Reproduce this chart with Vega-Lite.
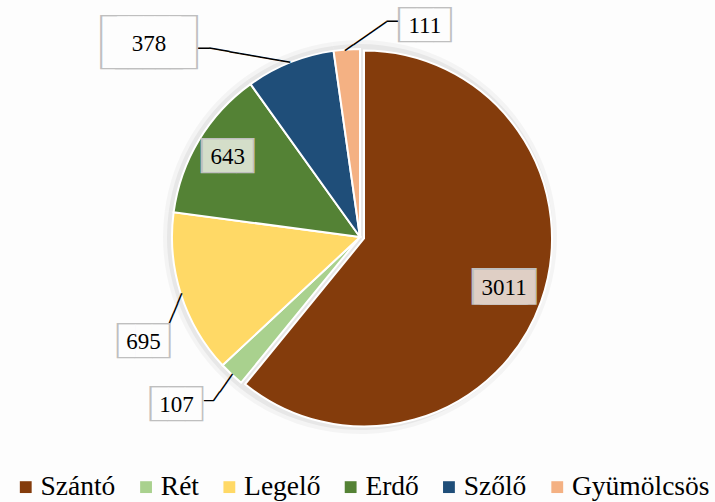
{
  "$schema": "https://vega.github.io/schema/vega-lite/v6.json",
  "width": 720,
  "height": 474,
  "autosize": {"type": "none"},
  "padding": {"left": 0, "top": 0, "right": 0, "bottom": 28},
  "background": "#fdfdfd",
  "config": {"view": {"stroke": null, "fill": "#f4f4f4"}},
  "data": {"values": [
    {"cat": "Szántó", "v": 3011},
    {"cat": "Rét", "v": 107},
    {"cat": "Legelő", "v": 695},
    {"cat": "Erdő", "v": 643},
    {"cat": "Szőlő", "v": 378},
    {"cat": "Gyümölcsös", "v": 111}
  ]},
  "transform": [{"window": [{"op": "row_number", "as": "i"}]}],
  "encoding": {
    "theta": {"field": "v", "type": "quantitative", "stack": true},
    "order": {"field": "i", "type": "quantitative"},
    "detail": {"field": "cat"}
  },
  "layer": [
    {"mark": {"type": "arc", "radius": 197, "fill": "#000", "fillOpacity": 0.035}},
    {"mark": {"type": "arc", "radius": 193, "fill": "#000", "fillOpacity": 0.05}},
    {"mark": {"type": "arc", "radius": 188, "stroke": "#ffffff", "strokeWidth": 2},
     "encoding": {
       "color": {"field": "cat", "type": "nominal",
         "scale": {"domain": ["Szántó", "Rét", "Legelő", "Erdő", "Szőlő", "Gyümölcsös"],
                   "range": ["#843c0c", "#a9d18e", "#ffd966", "#548235", "#1f4e79", "#f4b183"]},
         "legend": {"orient": "none", "legendX": 12, "legendY": 473, "direction": "horizontal", "title": null, "gridAlign": "each",
           "labelFont": "Liberation Serif", "labelFontSize": 27.5, "labelColor": "#000",
           "symbolType": "square", "symbolSize": 140, "symbolStrokeWidth": 0,
           "labelOffset": 1, "columnPadding": 16.3}},
       "opacity": {"condition": {"test": "datum.cat === 'Szántó'", "value": 0}, "value": 1}
     }},
    {"mark": {"type": "arc", "radius": 188, "stroke": "#ffffff", "strokeWidth": 2, "xOffset": 4, "yOffset": 1.5},
     "encoding": {
       "color": {"field": "cat", "type": "nominal"},
       "opacity": {"condition": {"test": "datum.cat === 'Szántó'", "value": 1}, "value": 0}
     }},

    {"mark": {"type": "text", "radius": 245.2, "dx": -65.05, "dy": 39.2, "angle": 0, "font": "DejaVu Sans Mono", "fontSize": 19.1, "fill": "#000", "align": "center", "baseline": "middle"},
     "encoding": {"text": {"condition": {"test": "datum.cat === 'Szőlő'", "value": "─"}, "value": ""}}},
    {"mark": {"type": "text", "radius": 212.65, "dx": -27.95, "dy": 21.64, "angle": 10.07, "font": "DejaVu Sans Mono", "fontSize": 16.98, "fill": "#000", "align": "center", "baseline": "middle"},
     "encoding": {"text": {"condition": {"test": "datum.cat === 'Szőlő'", "value": "────────"}, "value": ""}}},
    {"mark": {"type": "text", "radius": 217.7, "dx": 47.6, "dy": 2.47, "angle": 0, "font": "DejaVu Sans Mono", "fontSize": 19.1, "fill": "#000", "align": "center", "baseline": "middle"},
     "encoding": {"text": {"condition": {"test": "datum.cat === 'Gyümölcsös'", "value": "─"}, "value": ""}}},
    {"mark": {"type": "text", "radius": 201.0, "dx": 16.59, "dy": 11.85, "angle": -34.8, "font": "DejaVu Sans Mono", "fontSize": 16.78, "fill": "#000", "align": "center", "baseline": "middle"},
     "encoding": {"text": {"condition": {"test": "datum.cat === 'Gyümölcsös'", "value": "─────"}, "value": ""}}},
    {"mark": {"type": "text", "radius": 197.8, "dx": -8.79, "dy": 9.08, "angle": -67.5, "font": "DejaVu Sans Mono", "fontSize": 17.97, "fill": "#000", "align": "center", "baseline": "middle"},
     "encoding": {"text": {"condition": {"test": "datum.cat === 'Legelő'", "value": "───"}, "value": ""}}},
    {"mark": {"type": "text", "radius": 222.9, "dx": 1.05, "dy": 1.41, "angle": 0, "font": "DejaVu Sans Mono", "fontSize": 15.8, "fill": "#000", "align": "center", "baseline": "middle"},
     "encoding": {"text": {"condition": {"test": "datum.cat === 'Rét'", "value": "─"}, "value": ""}}},
    {"mark": {"type": "text", "radius": 203.5, "dx": -0.31, "dy": 3.86, "angle": -54.85, "font": "DejaVu Sans Mono", "fontSize": 18.08, "fill": "#000", "align": "center", "baseline": "middle"},
     "encoding": {"text": {"condition": {"test": "datum.cat === 'Rét'", "value": "───"}, "value": ""}}},

    {"mark": {"type": "text", "radius": 153, "dx": -4.2, "font": "DejaVu Sans Mono", "fontSize": 31, "fill": "#bfbfbf", "align": "center", "baseline": "middle"},
     "encoding": {"text": {"condition": {"test": "datum.cat === 'Szántó'", "value": "███"}, "value": ""}}},
    {"mark": {"type": "text", "radius": 153, "dx": 4.2, "font": "DejaVu Sans Mono", "fontSize": 31, "fill": "#bfbfbf", "align": "center", "baseline": "middle"},
     "encoding": {"text": {"condition": {"test": "datum.cat === 'Szántó'", "value": "███"}, "value": ""}}},
    {"mark": {"type": "text", "radius": 153, "dx": -4.2, "font": "DejaVu Sans Mono", "fontSize": 28.8, "fill": "#dfcfc5", "align": "center", "baseline": "middle"},
     "encoding": {"text": {"condition": {"test": "datum.cat === 'Szántó'", "value": "███"}, "value": ""}}},
    {"mark": {"type": "text", "radius": 153, "dx": 4.2, "font": "DejaVu Sans Mono", "fontSize": 28.8, "fill": "#dfcfc5", "align": "center", "baseline": "middle"},
     "encoding": {"text": {"condition": {"test": "datum.cat === 'Szántó'", "value": "███"}, "value": ""}}},
    {"mark": {"type": "text", "radius": 153, "font": "Liberation Serif", "fontSize": 23, "fill": "#000", "align": "center", "baseline": "middle"},
     "encoding": {"text": {"condition": {"test": "datum.cat === 'Szántó'", "field": "v", "type": "quantitative"}, "value": ""}}},

    {"mark": {"type": "text", "radius": 154.4, "font": "DejaVu Sans Mono", "fontSize": 29.5, "fill": "#bfbfbf", "align": "center", "baseline": "middle"},
     "encoding": {"text": {"condition": {"test": "datum.cat === 'Erdő'", "value": "███"}, "value": ""}}},
    {"mark": {"type": "text", "radius": 154.4, "font": "DejaVu Sans Mono", "fontSize": 27.3, "fill": "#d4dec9", "align": "center", "baseline": "middle"},
     "encoding": {"text": {"condition": {"test": "datum.cat === 'Erdő'", "value": "███"}, "value": ""}}},
    {"mark": {"type": "text", "radius": 154.4, "font": "Liberation Serif", "fontSize": 23, "fill": "#000", "align": "center", "baseline": "middle"},
     "encoding": {"text": {"condition": {"test": "datum.cat === 'Erdő'", "field": "v", "type": "quantitative"}, "value": ""}}},

    {"mark": {"type": "text", "radius": 210, "dx": -140.4, "dy": 2, "font": "DejaVu Sans Mono", "fontSize": 45.5, "fill": "#bfbfbf", "align": "center", "baseline": "middle"},
     "encoding": {"text": {"condition": {"test": "datum.cat === 'Szőlő'", "value": "███"}, "value": ""}}},
    {"mark": {"type": "text", "radius": 210, "dx": -125.6, "dy": 2, "font": "DejaVu Sans Mono", "fontSize": 45.5, "fill": "#bfbfbf", "align": "center", "baseline": "middle"},
     "encoding": {"text": {"condition": {"test": "datum.cat === 'Szőlő'", "value": "███"}, "value": ""}}},
    {"mark": {"type": "text", "radius": 210, "dx": -140.4, "dy": 2, "font": "DejaVu Sans Mono", "fontSize": 43.3, "fill": "#fdfdfd", "align": "center", "baseline": "middle"},
     "encoding": {"text": {"condition": {"test": "datum.cat === 'Szőlő'", "value": "███"}, "value": ""}}},
    {"mark": {"type": "text", "radius": 210, "dx": -125.6, "dy": 2, "font": "DejaVu Sans Mono", "fontSize": 43.3, "fill": "#fdfdfd", "align": "center", "baseline": "middle"},
     "encoding": {"text": {"condition": {"test": "datum.cat === 'Szőlő'", "value": "███"}, "value": ""}}},
    {"mark": {"type": "text", "radius": 210, "dx": -133, "dy": 2, "font": "Liberation Serif", "fontSize": 23, "fill": "#000", "align": "center", "baseline": "middle"},
     "encoding": {"text": {"condition": {"test": "datum.cat === 'Szőlő'", "field": "v", "type": "quantitative"}, "value": ""}}},

    {"mark": {"type": "text", "radius": 215, "dx": 80, "dy": 3, "font": "DejaVu Sans Mono", "fontSize": 29.5, "fill": "#bfbfbf", "align": "center", "baseline": "middle"},
     "encoding": {"text": {"condition": {"test": "datum.cat === 'Gyümölcsös'", "value": "███"}, "value": ""}}},
    {"mark": {"type": "text", "radius": 215, "dx": 80, "dy": 3, "font": "DejaVu Sans Mono", "fontSize": 27.3, "fill": "#fdfdfd", "align": "center", "baseline": "middle"},
     "encoding": {"text": {"condition": {"test": "datum.cat === 'Gyümölcsös'", "value": "███"}, "value": ""}}},
    {"mark": {"type": "text", "radius": 215, "dx": 80, "dy": 3, "font": "Liberation Serif", "fontSize": 23, "fill": "#000", "align": "center", "baseline": "middle"},
     "encoding": {"text": {"condition": {"test": "datum.cat === 'Gyümölcsös'", "field": "v", "type": "quantitative"}, "value": ""}}},

    {"mark": {"type": "text", "radius": 222, "dx": -5, "dy": 37, "font": "DejaVu Sans Mono", "fontSize": 29.5, "fill": "#bfbfbf", "align": "center", "baseline": "middle"},
     "encoding": {"text": {"condition": {"test": "datum.cat === 'Legelő'", "value": "███"}, "value": ""}}},
    {"mark": {"type": "text", "radius": 222, "dx": -5, "dy": 37, "font": "DejaVu Sans Mono", "fontSize": 27.3, "fill": "#fdfdfd", "align": "center", "baseline": "middle"},
     "encoding": {"text": {"condition": {"test": "datum.cat === 'Legelő'", "value": "███"}, "value": ""}}},
    {"mark": {"type": "text", "radius": 222, "dx": -5, "dy": 37, "font": "Liberation Serif", "fontSize": 23, "fill": "#000", "align": "center", "baseline": "middle"},
     "encoding": {"text": {"condition": {"test": "datum.cat === 'Legelő'", "field": "v", "type": "quantitative"}, "value": ""}}},

    {"mark": {"type": "text", "radius": 235, "dx": -23, "dy": -4, "font": "DejaVu Sans Mono", "fontSize": 29.5, "fill": "#bfbfbf", "align": "center", "baseline": "middle"},
     "encoding": {"text": {"condition": {"test": "datum.cat === 'Rét'", "value": "███"}, "value": ""}}},
    {"mark": {"type": "text", "radius": 235, "dx": -23, "dy": -4, "font": "DejaVu Sans Mono", "fontSize": 27.3, "fill": "#fdfdfd", "align": "center", "baseline": "middle"},
     "encoding": {"text": {"condition": {"test": "datum.cat === 'Rét'", "value": "███"}, "value": ""}}},
    {"mark": {"type": "text", "radius": 235, "dx": -23, "dy": -4, "font": "Liberation Serif", "fontSize": 23, "fill": "#000", "align": "center", "baseline": "middle"},
     "encoding": {"text": {"condition": {"test": "datum.cat === 'Rét'", "field": "v", "type": "quantitative"}, "value": ""}}}
  ]
}
